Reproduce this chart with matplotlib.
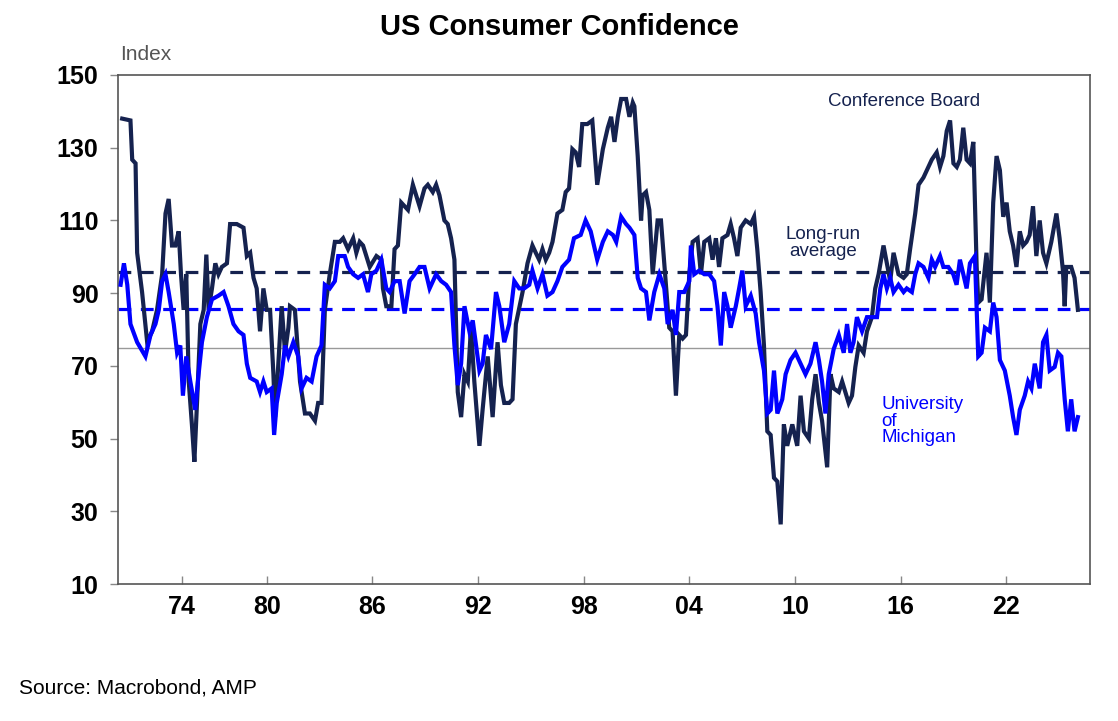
import matplotlib
matplotlib.use("Agg")
import matplotlib.pyplot as plt

plt.rcParams['font.family'] = ['Liberation Sans', 'DejaVu Sans']

cb_years = [1971.79,1972.26,1972.36,1972.55,1972.64,1972.92,1973.21,1973.49,1973.77,1974.06,1974.25,1974.43,1974.62,1974.81,1975.0,1975.13,1975.28,1975.43,1975.57,1975.75,1975.89,1976.04,1976.23,1976.42,1976.57,1976.70,1976.89,1977.08,1977.26,1977.45,1977.74,1977.92,1978.30,1978.68,1978.87,1979.06,1979.25,1979.43,1979.62,1979.81,1980.0,1980.19,1980.38,1980.47,1980.60,1980.85,1981.04,1981.23,1981.32,1981.60,1981.89,1982.17,1982.45,1982.74,1982.92,1983.11,1983.30,1983.58,1983.87,1984.15,1984.34,1984.62,1984.91,1985.09,1985.28,1985.47,1985.66,1985.85,1986.23,1986.51,1986.60,1986.79,1987.08,1987.26,1987.45,1987.64,1987.83,1988.02,1988.30,1988.68,1988.96,1989.15,1989.43,1989.62,1989.81,1990.09,1990.28,1990.47,1990.66,1990.85,1991.04,1991.23,1991.42,1991.60,1991.79,1992.08,1992.26,1992.55,1992.83,1993.11,1993.30,1993.49,1993.77,1993.96,1994.15,1994.53,1994.81,1995.09,1995.28,1995.47,1995.66,1995.85,1996.04,1996.23,1996.51,1996.79,1996.98,1997.17,1997.36,1997.55,1997.74,1997.92,1998.21,1998.49,1998.77,1999.09,1999.37,1999.56,1999.75,1999.94,2000.13,2000.41,2000.60,2000.79,2000.88,2001.07,2001.26,2001.35,2001.54,2001.73,2001.92,2002.20,2002.39,2002.58,2002.86,2003.05,2003.24,2003.43,2003.62,2003.81,2004.0,2004.19,2004.47,2004.66,2004.85,2005.13,2005.32,2005.51,2005.69,2005.88,2006.17,2006.35,2006.54,2006.73,2006.92,2007.20,2007.49,2007.68,2007.86,2008.05,2008.24,2008.43,2008.62,2008.81,2009.0,2009.19,2009.37,2009.56,2009.85,2010.13,2010.32,2010.51,2010.79,2010.98,2011.17,2011.36,2011.54,2011.83,2012.02,2012.20,2012.49,2012.68,2012.86,2013.05,2013.24,2013.43,2013.62,2013.90,2014.09,2014.37,2014.56,2014.75,2015.03,2015.22,2015.41,2015.60,2015.88,2016.17,2016.35,2016.54,2016.83,2017.02,2017.30,2017.58,2017.77,2018.05,2018.24,2018.43,2018.62,2018.81,2019.0,2019.19,2019.37,2019.56,2019.75,2019.94,2020.13,2020.32,2020.41,2020.60,2020.88,2021.07,2021.26,2021.45,2021.64,2021.83,2022.02,2022.20,2022.39,2022.58,2022.77,2022.96,2023.15,2023.33,2023.52,2023.71,2023.90,2024.09,2024.28,2024.56,2024.85,2025.03,2025.22,2025.32,2025.41,2025.69,2025.88,2026.07]
cb_values = [138.0,137.5,126.7,125.7,101.1,90.3,76.5,79.5,85.4,95.2,111.9,115.9,103.1,103.1,107.0,95.2,85.4,95.2,65.7,53.9,43.6,59.8,81.5,85.4,100.6,85.4,91.3,98.2,95.2,97.2,98.2,109.0,109.0,108.0,100.2,101.1,94.2,91.3,79.5,91.3,85.4,85.4,67.7,55.9,65.7,86.4,73.6,80.5,86.4,85.4,65.7,56.9,56.9,54.9,59.8,59.8,85.4,95.2,104.1,104.1,105.1,102.1,105.1,101.1,104.1,103.1,100.2,97.2,100.2,99.2,91.3,86.4,86.4,102.1,103.1,114.9,113.9,112.9,119.8,113.9,118.8,119.8,117.8,119.8,116.9,110.0,109.0,105.1,99.2,62.8,55.9,67.7,65.7,80.5,65.7,48.0,57.9,72.6,55.9,76.5,64.7,59.8,59.8,60.8,81.5,90.3,98.2,103.1,101.1,99.2,102.1,99.2,101.1,104.1,111.9,112.9,117.8,118.8,129.6,128.7,124.7,136.5,136.5,137.5,119.8,129.6,135.5,138.5,131.6,138.5,143.4,143.4,138.5,142.4,141.4,127.7,110.0,116.9,117.8,112.9,95.2,110.0,110.0,98.2,80.5,79.5,61.8,78.5,77.5,78.5,95.2,104.1,105.1,95.2,104.1,105.1,99.2,105.1,97.2,105.1,106.0,109.0,105.1,100.2,108.0,110.0,109.0,111.0,102.1,90.3,75.6,52.0,51.0,39.2,38.2,26.4,53.9,48.0,53.9,48.0,61.8,52.0,50.0,60.8,67.7,59.8,54.9,42.1,67.7,63.8,62.8,65.7,62.8,59.8,61.8,69.7,75.6,73.6,79.5,83.4,91.3,95.2,103.1,98.2,93.3,101.1,95.2,94.2,95.2,102.1,111.9,119.8,121.8,124.7,126.7,128.7,124.7,127.7,134.6,137.5,125.7,124.7,126.7,135.5,126.7,125.7,131.6,97.2,87.4,88.3,101.1,87.4,114.9,127.7,123.8,111.0,114.9,107.0,103.1,97.2,107.0,103.1,104.1,106.0,113.9,100.2,110.0,101.1,98.2,104.1,111.9,105.1,96.2,86.4,97.2,97.2,94.2,85.4]

um_years = [1971.70,1971.89,1972.08,1972.26,1972.64,1973.11,1973.40,1973.68,1973.87,1974.06,1974.25,1974.43,1974.72,1974.91,1975.09,1975.24,1975.43,1975.66,1975.94,1976.13,1976.32,1976.60,1976.89,1977.26,1977.55,1977.83,1978.11,1978.40,1978.68,1978.87,1979.06,1979.43,1979.62,1979.81,1980.0,1980.28,1980.42,1980.57,1980.85,1981.04,1981.23,1981.51,1981.79,1981.98,1982.26,1982.55,1982.83,1983.11,1983.30,1983.58,1983.87,1984.06,1984.43,1984.62,1984.91,1985.19,1985.47,1985.75,1985.94,1986.23,1986.51,1986.79,1986.98,1987.26,1987.55,1987.83,1988.11,1988.40,1988.68,1988.96,1989.25,1989.62,1989.91,1990.19,1990.47,1990.66,1990.85,1991.04,1991.23,1991.51,1991.70,1991.89,1992.08,1992.26,1992.45,1992.74,1993.02,1993.21,1993.49,1993.77,1994.06,1994.34,1994.62,1994.91,1995.09,1995.38,1995.66,1995.94,1996.23,1996.51,1996.79,1997.17,1997.45,1997.83,1998.11,1998.40,1998.77,1999.09,1999.37,1999.66,1999.85,2000.13,2000.41,2000.60,2000.88,2001.07,2001.26,2001.54,2001.73,2002.01,2002.30,2002.58,2002.77,2003.05,2003.24,2003.43,2003.71,2004.0,2004.09,2004.28,2004.56,2004.85,2005.13,2005.41,2005.60,2005.79,2005.98,2006.17,2006.35,2006.64,2006.83,2007.01,2007.20,2007.49,2007.77,2007.96,2008.24,2008.43,2008.62,2008.81,2009.0,2009.28,2009.47,2009.75,2010.03,2010.32,2010.60,2010.88,2011.17,2011.36,2011.54,2011.73,2011.92,2012.20,2012.49,2012.77,2012.96,2013.15,2013.33,2013.52,2013.81,2014.09,2014.37,2014.66,2014.85,2015.03,2015.22,2015.41,2015.60,2015.88,2016.17,2016.35,2016.64,2016.83,2017.02,2017.30,2017.58,2017.77,2017.96,2018.24,2018.43,2018.71,2018.99,2019.18,2019.37,2019.56,2019.75,2019.94,2020.22,2020.41,2020.60,2020.79,2021.07,2021.26,2021.45,2021.64,2021.92,2022.20,2022.39,2022.58,2022.77,2023.05,2023.24,2023.43,2023.62,2023.90,2024.09,2024.28,2024.47,2024.75,2024.94,2025.13,2025.32,2025.50,2025.69,2025.88,2026.07]
um_values = [92.3,98.2,92.3,81.5,76.5,72.6,78.5,81.5,85.4,93.3,95.2,90.3,81.5,73.6,75.6,61.8,72.6,65.7,57.9,67.7,76.5,83.4,88.3,89.3,90.3,86.4,81.5,79.5,78.5,70.6,66.7,65.7,62.8,65.7,62.8,63.8,51.0,59.8,67.7,75.6,72.6,76.5,72.6,63.8,66.7,65.7,72.6,75.6,92.3,91.3,93.3,100.2,100.2,97.2,95.2,94.2,95.2,90.3,95.2,96.2,99.2,91.3,90.3,93.3,93.3,84.4,93.3,95.2,97.2,97.2,91.3,95.2,93.3,92.3,90.3,75.6,64.7,70.6,86.4,79.5,82.5,75.6,68.7,70.6,78.5,74.6,90.3,86.4,76.5,81.5,93.3,91.3,91.3,92.3,96.2,91.3,95.2,89.3,90.3,93.3,97.2,99.2,105.1,106.0,110.0,107.0,99.2,104.1,107.0,106.0,104.1,111.0,109.0,108.0,106.0,94.2,91.3,90.3,82.5,90.3,95.2,91.3,81.5,85.4,78.5,90.3,90.3,93.3,103.1,95.2,96.2,95.2,95.2,93.3,86.4,75.6,90.3,86.4,80.5,86.4,91.3,96.2,86.4,89.3,84.4,76.5,68.7,56.9,57.9,68.7,56.9,60.8,67.7,71.6,73.6,70.6,67.7,70.6,76.5,71.6,65.7,56.9,67.7,74.6,78.5,73.6,81.5,73.6,76.5,83.4,79.5,83.4,83.4,83.4,91.3,95.2,91.3,94.2,90.3,92.3,90.3,91.3,90.3,95.2,98.2,97.2,94.2,99.2,97.2,100.2,97.2,97.2,95.2,92.3,99.2,95.2,91.3,98.2,100.2,72.6,73.6,80.5,79.5,87.4,83.4,71.6,68.7,61.8,55.9,51.0,57.9,61.8,65.7,63.8,70.6,63.8,76.5,78.5,68.7,69.7,73.6,72.6,60.8,52.0,60.8,52.0,55.9]

cb_avg = 95.9
um_avg = 85.6
ref_level = 75
yticks = [10, 30, 50, 70, 90, 110, 130, 150]
xtick_pos = [1975.17, 1980, 1986, 1992, 1998, 2004, 2010, 2016, 2022]
xtick_labels = ['74', '80', '86', '92', '98', '04', '10', '16', '22']

NAVY = '#15224f'
BLUE = '#0000ff'

fig = plt.figure(figsize=(11.18, 7.21), dpi=100)
ax = fig.add_axes([0.1055, 0.19, 0.8695, 0.706])

ax.axhline(ref_level, color='#999999', lw=1.0, zorder=1)
ax.axhline(cb_avg, color=NAVY, lw=2.3, ls=(0, (4, 3)), zorder=2)
ax.axhline(um_avg, color=BLUE, lw=2.3, ls=(0, (4, 3)), zorder=2)
ax.plot(cb_years, cb_values, color=NAVY, lw=3.0, zorder=3, solid_joinstyle='miter')
ax.plot(um_years, um_values, color=BLUE, lw=3.0, zorder=4, solid_joinstyle='miter')

ax.set_xlim(1971.55, 2026.76)
ax.set_ylim(10, 150)
ax.set_yticks(yticks)
ax.set_xticks(xtick_pos)
ax.set_xticklabels(xtick_labels)
ax.tick_params(axis='both', labelsize=18, width=1, color='#888888')
ax.tick_params(axis='y', direction='out', length=6, pad=8)
ax.tick_params(axis='x', direction='in', length=6, pad=8)
for lab in ax.get_xticklabels() + ax.get_yticklabels():
    lab.set_fontweight('bold')
for s in ax.spines.values():
    s.set_color('#555555')
    s.set_linewidth(1.2)

ax.text(0.73, 0.965, 'Conference Board', transform=ax.transAxes, color=NAVY, fontsize=13.5, va='top')
ax.text(0.725, 0.67, 'Long-run\naverage', transform=ax.transAxes, color=NAVY, fontsize=13.5, ha='center', va='center', linespacing=0.95)
ax.text(0.785, 0.32, 'University\nof\nMichigan', transform=ax.transAxes, color=BLUE, fontsize=13.5, va='center', linespacing=0.95)

fig.text(0.5, 0.962, 'US Consumer Confidence', ha='center', va='center', fontsize=21, fontweight='bold')
fig.text(0.107, 0.924, 'Index', ha='left', va='center', fontsize=15, color='#555555')
fig.text(0.017, 0.046, 'Source: Macrobond, AMP', ha='left', va='center', fontsize=15)

fig.savefig('out.png', dpi=100)
